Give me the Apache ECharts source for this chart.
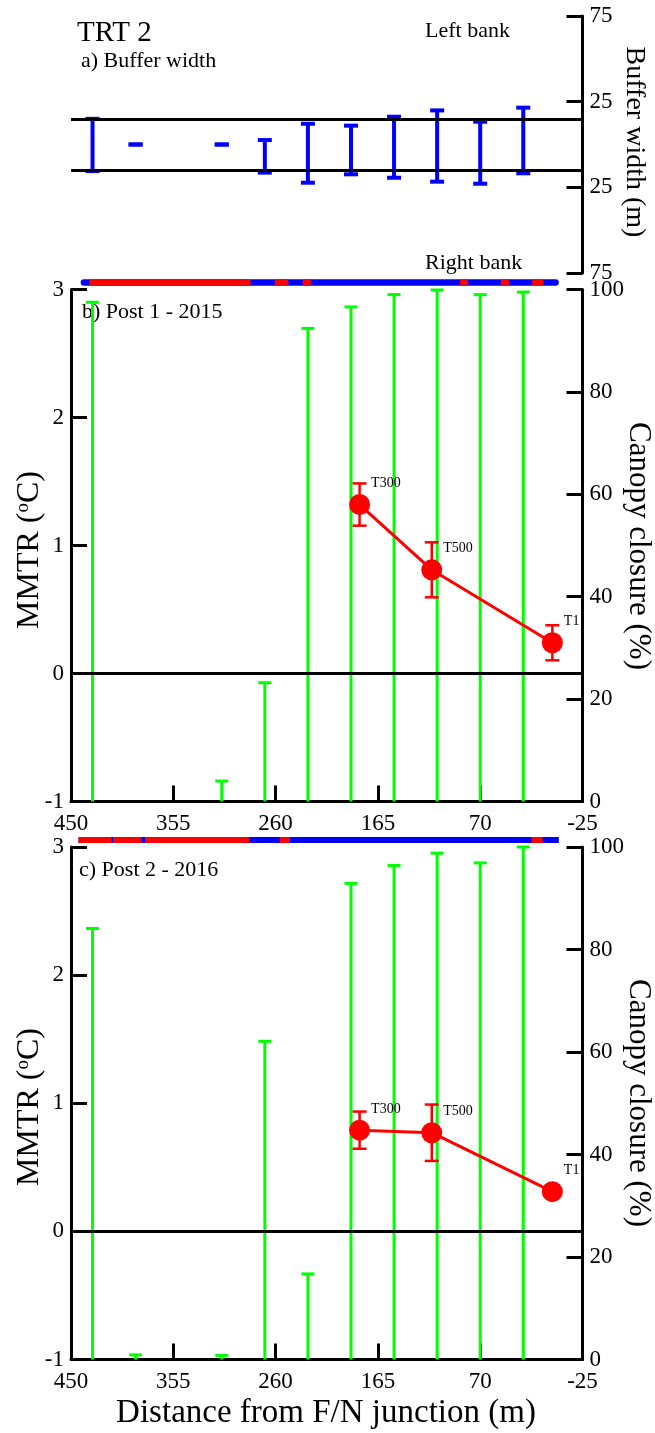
<!DOCTYPE html>
<html><head><meta charset="utf-8">
<script src="https://cdn.jsdelivr.net/npm/echarts@6/dist/echarts.min.js"></script>
<style>html,body{margin:0;padding:0;background:#fff}#c{width:655px;height:1433px}</style>
</head><body><div id="c"></div>
<script>
// ---- data ----
const xTicks = [450, 355, 260, 165, 70, -25];
const transects = [430, 390, 310, 270, 230, 190, 150, 110, 70, 30];
const bufferLeft = [15, 0, 0, 2.6, 12.1, 11, 16.2, 19.9, 13.3, 21.5];
const bufferRight = [-15.5, 0, 0, -16.4, -22.3, -17.4, -19.4, -21.7, -22.9, -16.8];
const bankLines = [15, -15.3];
const canopy2015 = [97.5, null, 4.0, 23.2, 92.4, 96.6, 99.0, 99.9, 99.0, 99.5];
const canopy2016 = [84.1, 0.9, 0.8, 62.1, 16.7, 92.9, 96.4, 98.8, 96.9, 100];
const loggerNames = ['T300', 'T500', 'T1'];
const loggerDist = [182, 115, 3];
const mmtr2015 = [1.32, 0.81, 0.24];
const mmtr2015Err = [0.165, 0.215, 0.137];
const mmtr2016 = [0.79, 0.77, 0.31];
const mmtr2016Err = [0.145, 0.22, 0.035];
const bank2015Blue = [[438, 0]];
const bank2015Red = [[430, 286], [258, 251], [232, 230], [86, 84], [48, 46], [19, 14]];
const bank2016Blue = [[443, -3]];
const bank2016Red = [[443, 412.3], [411, 384.3], [381.3, 284.7], [255.9, 246.6], [22.2, 12]];

// ---- chart ----
const FONT = '"Liberation Serif", "Times New Roman", serif';
const L = 71, W = 511.5;
const chart = echarts.init(document.getElementById('c'), null, {renderer: 'canvas'});

function xAx(gi, show) {
  return {gridIndex: gi, type: 'value', min: xTicks[xTicks.length - 1], max: xTicks[0], interval: 95,
    inverse: true, show: show,
    axisLine: {show: true, onZero: false, lineStyle: {color: '#000', width: 3}},
    axisTick: {show: true, inside: true, length: 16, lineStyle: {color: '#000', width: 3}},
    axisLabel: {show: true, margin: 11, color: '#000', fontFamily: FONT, fontSize: 23},
    splitLine: {show: false}};
}
function yAx(gi, pos, min, max, interval, fmt) {
  return {gridIndex: gi, type: 'value', position: pos, min: min, max: max, interval: interval,
    axisLine: {show: true, onZero: false, lineStyle: {color: '#000', width: 3}},
    axisTick: {show: true, inside: true, length: 16, lineStyle: {color: '#000', width: 3}},
    axisLabel: {show: true, margin: 7, color: '#000', fontFamily: FONT, fontSize: 23, formatter: fmt},
    splitLine: {show: false}};
}
function hiddenY(gi) { return {gridIndex: gi, type: 'value', min: 0, max: 1, show: false}; }

function capRender(color, lw, capW, capTop, capBottom) {
  return function (params, api) {
    const x = api.value(0), lo = api.value(1), hi = api.value(2);
    const pHi = api.coord([x, hi]), pLo = api.coord([x, lo]);
    const h = capW / 2;
    const st = {stroke: color, lineWidth: lw, fill: null};
    const ch = [];
    if (hi !== lo) ch.push({type: 'line', shape: {x1: pHi[0], y1: pHi[1], x2: pLo[0], y2: pLo[1]}, style: st});
    if (capTop) ch.push({type: 'line', shape: {x1: pHi[0] - h, y1: pHi[1], x2: pHi[0] + h, y2: pHi[1]}, style: st});
    if (capBottom) ch.push({type: 'line', shape: {x1: pLo[0] - h, y1: pLo[1], x2: pLo[0] + h, y2: pLo[1]}, style: st});
    return {type: 'group', children: ch};
  };
}
function stripRender(color, lw, cap) {
  return function (params, api) {
    const p1 = api.coord([api.value(0), 0.5]), p2 = api.coord([api.value(1), 0.5]);
    return {type: 'line', shape: {x1: p1[0], y1: p1[1], x2: p2[0], y2: p2[1]},
      style: {stroke: color, lineWidth: lw, lineCap: cap}};
  };
}
function canopyData(vals) {
  const out = [];
  transects.forEach((d, i) => { if (vals[i] !== null) out.push([d, 0, vals[i]]); });
  return out;
}
function errData(vals, errs) { return loggerDist.map((d, i) => [d, vals[i] - errs[i], vals[i] + errs[i]]); }
function lineData(vals) { return loggerDist.map((d, i) => [d, vals[i]]); }

const zeroLine = {silent: true, symbol: 'none', label: {show: false},
  lineStyle: {color: '#000', width: 3, type: 'solid'}, emphasis: {disabled: true},
  data: [{yAxis: 0}]};

function panelSeries(xi, yl, yr, canopy, vals, errs) {
  return [
    {type: 'custom', xAxisIndex: xi, yAxisIndex: yr, renderItem: capRender('#00ff00', 3, 13, true, false),
      data: canopyData(canopy), z: 2, silent: true},
    {type: 'custom', xAxisIndex: xi, yAxisIndex: yl, renderItem: capRender('#ff0000', 2.5, 14, true, true),
      data: errData(vals, errs), z: 4, silent: true},
    {type: 'line', xAxisIndex: xi, yAxisIndex: yl, data: lineData(vals), z: 5, silent: true,
      symbol: 'circle', symbolSize: 21, lineStyle: {color: '#ff0000', width: 3},
      itemStyle: {color: '#ff0000'},
      label: {show: true, position: 'right', distance: 1, offset: [0, -21], color: '#000',
        fontFamily: FONT, fontSize: 14, formatter: p => loggerNames[p.dataIndex]},
      markLine: zeroLine}
  ];
}

const option = {
  animation: false,
  backgroundColor: '#fff',
  grid: [
    {left: L, width: W, top: 16, height: 257},
    {left: L, width: W, top: 279, height: 7},
    {left: L, width: W, top: 289.5, height: 512},
    {left: L, width: W, top: 836, height: 8},
    {left: L, width: W, top: 847, height: 512.5}
  ],
  xAxis: [xAx(0, false), xAx(1, false), xAx(2, true), xAx(3, false), xAx(4, true)],
  yAxis: [
    yAx(0, 'right', -75, 75, 50, v => String(Math.abs(v))),
    hiddenY(1),
    yAx(2, 'left', -1, 3, 1),
    yAx(2, 'right', 0, 100, 20),
    hiddenY(3),
    yAx(4, 'left', -1, 3, 1),
    yAx(4, 'right', 0, 100, 20)
  ],
  series: [
    {type: 'custom', xAxisIndex: 0, yAxisIndex: 0, renderItem: capRender('#0000ff', 4, 14, true, true),
      data: transects.map((d, i) => [d, bufferRight[i], bufferLeft[i]]), silent: true, z: 3,
      markLine: {silent: true, symbol: 'none', label: {show: false}, emphasis: {disabled: true},
        lineStyle: {color: '#000', width: 3, type: 'solid'}, data: bankLines.map(v => ({yAxis: v}))}},
    {type: 'custom', xAxisIndex: 1, yAxisIndex: 1, renderItem: stripRender('#0000ff', 6.5, 'round'),
      data: bank2015Blue, silent: true, z: 2},
    {type: 'custom', xAxisIndex: 1, yAxisIndex: 1, renderItem: stripRender('#ff0000', 6.5, 'round'),
      data: bank2015Red, silent: true, z: 3},
    {type: 'custom', xAxisIndex: 3, yAxisIndex: 4, renderItem: stripRender('#0000ff', 6, 'butt'),
      data: bank2016Blue, silent: true, z: 2},
    {type: 'custom', xAxisIndex: 3, yAxisIndex: 4, renderItem: stripRender('#ff0000', 6, 'butt'),
      data: bank2016Red, silent: true, z: 3},
    ...panelSeries(2, 2, 3, canopy2015, mmtr2015, mmtr2015Err),
    ...panelSeries(4, 5, 6, canopy2016, mmtr2016, mmtr2016Err)
  ],
  graphic: [
    {type: 'text', x: 77, y: 33, style: {text: 'TRT 2', font: '29px ' + FONT, fill: '#000', verticalAlign: 'middle'}},
    {type: 'text', x: 81, y: 61, style: {text: 'a) Buffer width', font: '22px ' + FONT, fill: '#000', verticalAlign: 'middle'}},
    {type: 'text', x: 425, y: 31, style: {text: 'Left bank', font: '22px ' + FONT, fill: '#000', verticalAlign: 'middle'}},
    {type: 'text', x: 425, y: 263, style: {text: 'Right bank', font: '22px ' + FONT, fill: '#000', verticalAlign: 'middle'}},
    {type: 'text', x: 634, y: 142, rotation: -Math.PI / 2,
      style: {text: 'Buffer width (m)', font: '28px ' + FONT, fill: '#000', align: 'center', verticalAlign: 'middle'}},
    {type: 'text', x: 82, y: 312, style: {text: 'b) Post 1 - 2015', font: '22px ' + FONT, fill: '#000', verticalAlign: 'middle'}},
    {type: 'text', x: 79, y: 870, style: {text: 'c) Post 2 - 2016', font: '22px ' + FONT, fill: '#000', verticalAlign: 'middle'}},
    {type: 'text', x: 638, y: 546, rotation: -Math.PI / 2,
      style: {text: 'Canopy closure (%)', font: '31px ' + FONT, fill: '#000', align: 'center', verticalAlign: 'middle'}},
    {type: 'text', x: 638, y: 1103, rotation: -Math.PI / 2,
      style: {text: 'Canopy closure (%)', font: '31px ' + FONT, fill: '#000', align: 'center', verticalAlign: 'middle'}},
    {type: 'text', x: 30, y: 550, rotation: Math.PI / 2,
      style: {text: '{a|MMTR (}{s|o}{a|C)}', align: 'center', verticalAlign: 'middle',
        rich: {a: {fontFamily: FONT, fontSize: 32, fill: '#000', color: '#000'},
               s: {fontFamily: FONT, fontSize: 19, color: '#000', verticalAlign: 'top', padding: [0, 0, 12, 0]}}}},
    {type: 'text', x: 30, y: 1107, rotation: Math.PI / 2,
      style: {text: '{a|MMTR (}{s|o}{a|C)}', align: 'center', verticalAlign: 'middle',
        rich: {a: {fontFamily: FONT, fontSize: 32, fill: '#000', color: '#000'},
               s: {fontFamily: FONT, fontSize: 19, color: '#000', verticalAlign: 'top', padding: [0, 0, 12, 0]}}}},
    {type: 'text', x: 326, y: 1413,
      style: {text: 'Distance from F/N junction (m)', font: '33px ' + FONT, fill: '#000', align: 'center', verticalAlign: 'middle'}}
  ]
};
chart.setOption(option);
</script>
</body></html>
